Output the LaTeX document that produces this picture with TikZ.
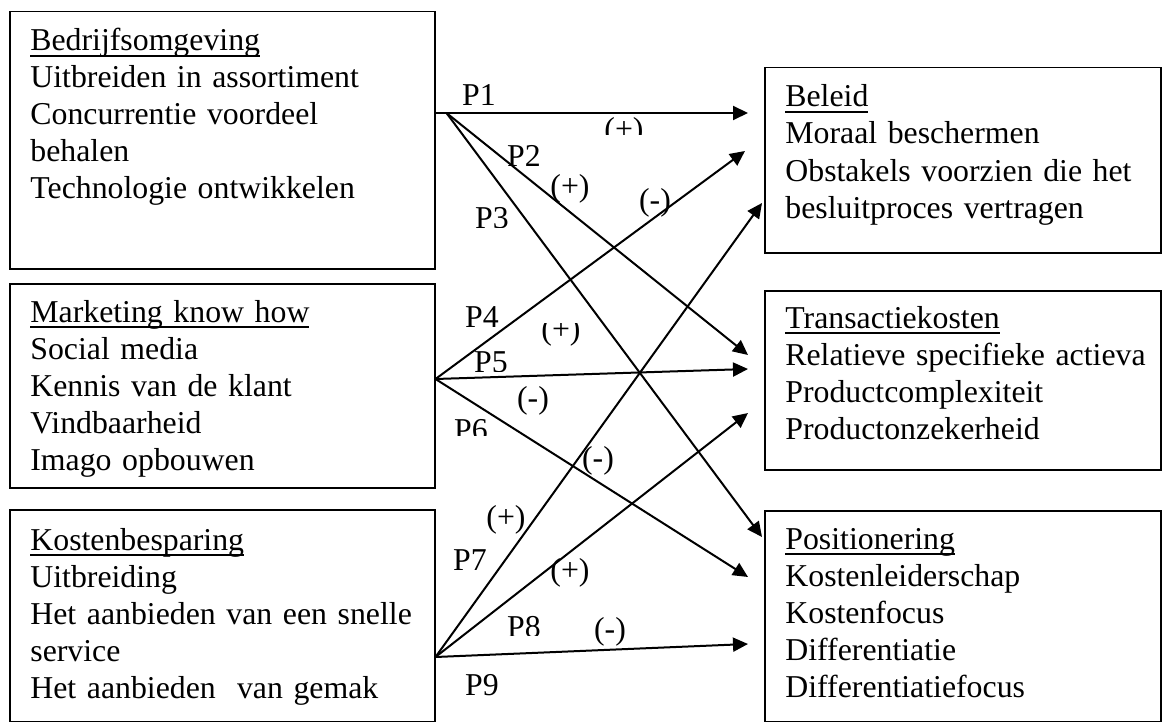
\documentclass[tikz,border=0pt]{standalone}
\usepackage{fontspec}
\setmainfont{Liberation Serif}
\usepackage{tikz}
\usetikzlibrary{positioning, arrows.meta, calc}
\newcommand{\ulhead}[1]{\setbox0\hbox{#1}\rlap{\rule[-3pt]{\wd0}{1pt}}\box0}

\begin{document}
\begin{tikzpicture}[
    x=0.5pt, y=-0.5pt,
    box/.style={rectangle, draw, line width=0.75pt, anchor=north west, inner sep=0pt},
    item/.style={anchor=base west, align=left, text width=200pt, inner sep=0pt, font=\fontsize{15.9}{18.5}\selectfont},
    plabel/.style={anchor=base, inner sep=0pt, font=\fontsize{15.9}{18.5}\selectfont},
    arrow/.style={-{Triangle[length=7.5pt, width=7pt]}, line width=1pt}
]
\useasboundingbox (0,0) rectangle (1162,722);
\node[box, minimum width=212.5pt, minimum height=128.5pt] (bedrijf) at (9,11) {};
\node[box, minimum width=212.5pt, minimum height=102pt] (marketing) at (9,283) {};
\node[box, minimum width=212.5pt, minimum height=106pt] (kosten) at (9,509) {};
\node[box, minimum width=198pt, minimum height=92.5pt] (beleid) at (764,67) {};
\node[box, minimum width=198pt, minimum height=89.5pt] (transactie) at (764,290) {};
\node[box, minimum width=198pt, minimum height=105.5pt] (positie) at (764,510) {};
\node[item] (bedrijftxt) at ([shift={(21,40)}]bedrijf.north west)
    {\ulhead{Bedrijfsomgeving}\\Uitbreiden in assortiment\\Concurrentie voordeel\\behalen\\Technologie ontwikkelen};
\node[item] (marketingtxt) at ([shift={(21,39)}]marketing.north west)
    {\ulhead{Marketing know how}\\Social media\\Kennis van de klant\\Vindbaarheid\\Imago opbouwen};
\node[item] (kostentxt) at ([shift={(21,41)}]kosten.north west)
    {\ulhead{Kostenbesparing}\\Uitbreiding\\Het aanbieden van een snelle\\service\\Het aanbieden~ van gemak};
\node[item] (beleidtxt) at ([shift={(21,40)}]beleid.north west)
    {\ulhead{Beleid}\\Moraal beschermen\\Obstakels voorzien die het\\besluitproces vertragen};
\node[item] (transactietxt) at ([shift={(21,38)}]transactie.north west)
    {\ulhead{Transactiekosten}\\Relatieve specifieke actieva\\Productcomplexiteit\\Productonzekerheid};
\node[item] (positietxt) at ([shift={(21,39)}]positie.north west)
    {\ulhead{Positionering}\\Kostenleiderschap\\Kostenfocus\\Differentiatie\\Differentiatiefocus};
\coordinate (bo) at ([yshift=-51pt]bedrijf.north east);
\coordinate (bo2) at ([xshift=5.5pt]bo);
\coordinate (mk) at ([yshift=-48pt]marketing.north east);
\coordinate (kb) at ([yshift=-74pt]kosten.north east);
\draw[arrow] (bo) -- ([shift={(-16,46)}]beleid.north west);
\draw[arrow] (bo2) -- ([shift={(-16,65)}]transactie.north west);
\draw[arrow] (bo2) -- ([shift={(-2,27)}]positie.north west);
\draw[arrow] (mk) -- ([shift={(-19,84)}]beleid.north west);
\draw[arrow] (mk) -- ([shift={(-16,79)}]transactie.north west);
\draw[arrow] (mk) -- ([shift={(-16,67)}]positie.north west);
\draw[arrow] (kb) -- ([shift={(-2,136)}]beleid.north west);
\draw[arrow] (kb) -- ([shift={(-16,123)}]transactie.north west);
\draw[arrow] (kb) -- ([shift={(-16,134)}]positie.north west);
\node[plabel] (p1) at (479,105) {P1};
\begin{scope}
  \clip (590,100) rectangle (660,135);
  \node[plabel] (s1) at (624,140) {(+)};
\end{scope}
\node[plabel] (p2) at (524,167) {P2};
\node[plabel] (s2) at (570,197) {(+)};
\begin{scope}
  \clip (460,190) rectangle (530,227);
  \node[plabel] (p3) at (492,228) {P3};
\end{scope}
\node[plabel] (s4) at (655,210) {(-)};
\node[plabel] (p4) at (482,327) {P4};
\begin{scope}
  \clip (530,323) rectangle (600,360);
  \node[plabel] (s3) at (561,339) {(+)};
\end{scope}
\begin{scope}
  \clip (460,340) rectangle (530,371);
  \node[plabel] (p5) at (491,372) {P5};
\end{scope}
\node[plabel] (s5) at (533,408) {(-)};
\begin{scope}
  \clip (440,400) rectangle (500,435);
  \node[plabel] (p6) at (471,440) {P6};
\end{scope}
\node[plabel] (s6) at (598,468) {(-)};
\node[plabel] (s7) at (506,527) {(+)};
\node[plabel] (p7) at (470,570) {P7};
\node[plabel] (s8) at (570,580) {(+)};
\begin{scope}
  \clip (490,600) rectangle (560,635);
  \node[plabel] (p8) at (524,637) {P8};
\end{scope}
\node[plabel] (s9) at (610,639) {(-)};
\node[plabel] (p9) at (482,695) {P9};
\end{tikzpicture}
\end{document}
